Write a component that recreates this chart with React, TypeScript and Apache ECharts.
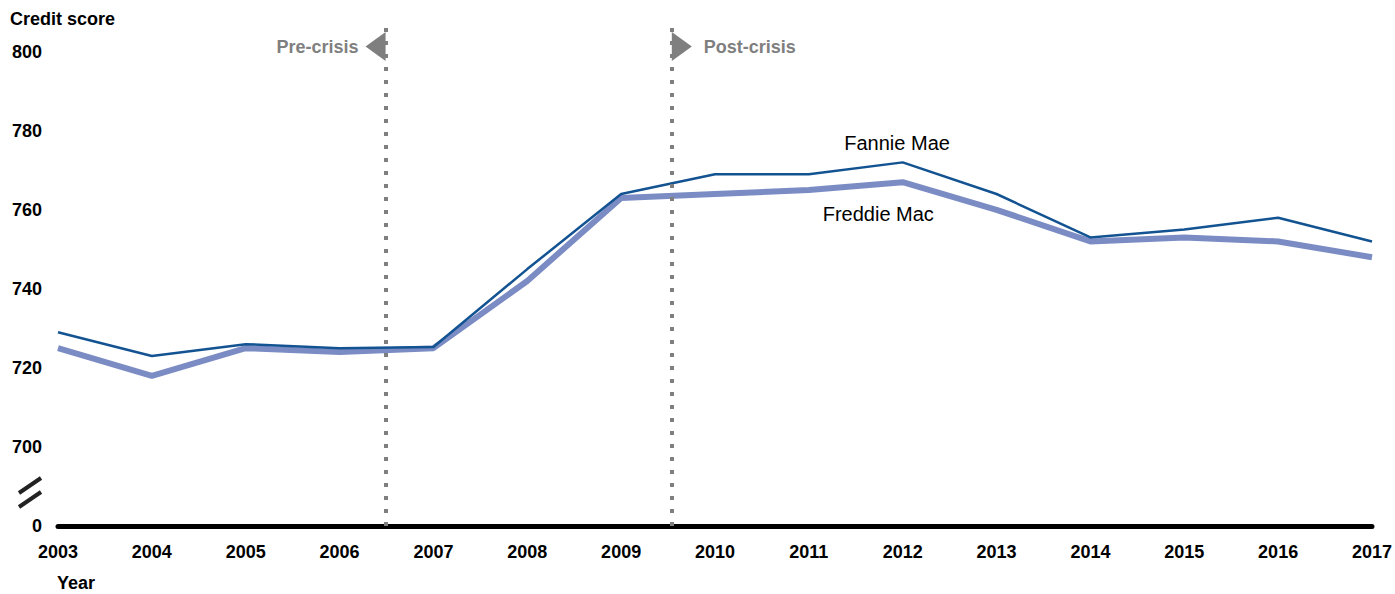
import React, { useEffect, useRef } from "react";
import * as echarts from "echarts";

const years = [2003, 2004, 2005, 2006, 2007, 2008, 2009, 2010, 2011, 2012, 2013, 2014, 2015, 2016, 2017];
const fannieMae = [729, 723, 726, 725, 725.3, 745, 764, 769, 769, 772, 764, 753, 755, 758, 752];
const freddieMac = [725, 718, 725, 724, 725, 742, 763, 764, 765, 767, 760, 752, 753, 752, 748];
const crisisMarks = [2006.49, 2009.54];
const yTickLabels = [800, 780, 760, 740, 720, 700];

const FONT = "Liberation Sans, Arial, Helvetica, sans-serif";

export default function App() {
  const ref = useRef<HTMLDivElement>(null);
  useEffect(() => {
    if (!ref.current) return;
    const chart = echarts.init(ref.current, null, { renderer: "svg" });
    const pxPerYear = 1314 / 14;
    const triOff = 10 / pxPerYear;
    chart.setOption({
      animation: false,
      grid: { left: 58, right: 23, top: 28, bottom: 68 },
      xAxis: {
        type: "value",
        min: 2003,
        max: 2017,
        interval: 1,
        axisLine: { show: true, lineStyle: { color: "#000", width: 5 } },
        axisTick: { show: false },
        splitLine: { show: false },
        axisLabel: {
          color: "#000",
          fontWeight: "bold",
          fontSize: 18,
          fontFamily: FONT,
          margin: 17,
          formatter: (v: number) => String(v),
        },
      },
      yAxis: {
        type: "value",
        min: 680,
        max: 806,
        interval: 20,
        axisLine: { show: false },
        axisTick: { show: false },
        splitLine: { show: false },
        axisLabel: {
          color: "#000",
          fontWeight: "bold",
          fontSize: 18,
          fontFamily: FONT,
          margin: 16,
          formatter: (v: number) =>
            v === 680 ? "0" : yTickLabels.indexOf(v) >= 0 ? String(v) : "",
        },
      },
      series: [
        {
          name: "Freddie Mac",
          type: "line",
          data: years.map((y, i) => [y, freddieMac[i]]),
          symbol: "none",
          lineStyle: { color: "#7b8cc4", width: 6 },
          z: 2,
          markPoint: {
            symbol: "circle",
            symbolSize: 0,
            data: [
              {
                coord: [2011.74, 759],
                label: {
                  show: true,
                  formatter: "Freddie Mac",
                  color: "#000",
                  fontSize: 20,
                  fontFamily: FONT,
                  position: "inside",
                },
              },
            ],
          },
        },
        {
          name: "Fannie Mae",
          type: "line",
          data: years.map((y, i) => [y, fannieMae[i]]),
          symbol: "none",
          lineStyle: { color: "#135392", width: 2.5 },
          z: 3,
          markLine: {
            symbol: "none",
            silent: true,
            label: { show: false },
            lineStyle: { color: "#7f7f7f", width: 4, type: [4, 9] },
            data: crisisMarks.map((x) => ({ xAxis: x })),
          },
          markPoint: {
            data: [
              {
                coord: [2011.94, 777],
                symbol: "circle",
                symbolSize: 0,
                label: {
                  show: true,
                  formatter: "Fannie Mae",
                  color: "#000",
                  fontSize: 20,
                  fontFamily: FONT,
                  position: "inside",
                },
              },
              {
                coord: [crisisMarks[0] - triOff, 801.3],
                symbol: "triangle",
                symbolSize: [29, 20],
                symbolRotate: 90,
                itemStyle: { color: "#7f7f7f" },
                label: {
                  show: true,
                  formatter: "Pre-crisis",
                  position: "left",
                  distance: 7,
                  color: "#7f7f7f",
                  fontWeight: "bold",
                  fontSize: 18,
                  fontFamily: FONT,
                },
              },
              {
                coord: [crisisMarks[1] + triOff, 801.3],
                symbol: "triangle",
                symbolSize: [29, 20],
                symbolRotate: -90,
                itemStyle: { color: "#7f7f7f" },
                label: {
                  show: true,
                  formatter: "Post-crisis",
                  position: "right",
                  distance: 12,
                  color: "#7f7f7f",
                  fontWeight: "bold",
                  fontSize: 18,
                  fontFamily: FONT,
                },
              },
            ],
          },
        },
      ],
      graphic: [
        {
          type: "text",
          left: 10,
          top: 10,
          style: { text: "Credit score", fill: "#000", font: `bold 18px ${FONT}` },
        },
        {
          type: "text",
          left: 57,
          top: 574,
          style: { text: "Year", fill: "#000", font: `bold 18px ${FONT}` },
        },
        {
          type: "line",
          shape: { x1: 19, y1: 493, x2: 41, y2: 478 },
          style: { stroke: "#222", lineWidth: 4 },
        },
        {
          type: "line",
          shape: { x1: 19, y1: 507, x2: 41, y2: 492 },
          style: { stroke: "#222", lineWidth: 4 },
        },
      ],
    });
    return () => chart.dispose();
  }, []);
  return (
    <div
      ref={ref}
      style={{ position: "absolute", left: 0, top: 0, width: 1395, height: 594 }}
    />
  );
}
